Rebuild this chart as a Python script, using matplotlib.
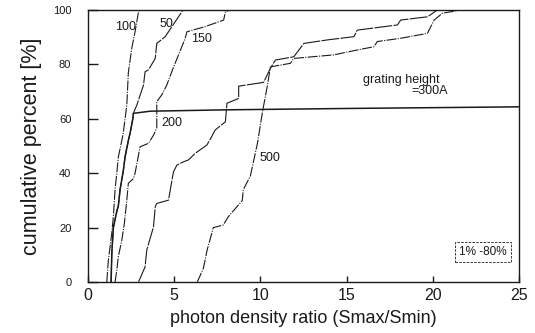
import matplotlib
matplotlib.use("Agg")
import matplotlib.pyplot as plt

plt.rcParams["font.family"] = ["Liberation Sans", "DejaVu Sans"]

# curves: x = Smax/Smin, y = cumulative %
x_100 = [1.09, 1.18, 1.38, 1.47, 1.57, 1.67, 1.76, 1.96, 2.05, 2.25, 2.34, 2.54, 2.73, 2.92, 3.0]
y_100 = [0, 8, 18, 24, 34, 40, 46, 52, 55, 65, 77, 86, 92, 99, 100]

x_low = [1.34, 1.38, 1.47, 1.67, 1.76, 1.86, 2.05, 2.15, 2.34, 2.45, 2.6, 2.63]
y_low = [0, 10.6, 20, 26, 28, 34, 41, 46, 52, 55, 60, 62]

x_50 = x_low + [2.83, 3.22, 3.31, 3.51, 3.9, 3.99, 4.48, 5.06, 5.45, 5.5]
y_50 = y_low + [65, 72.4, 77.3, 78, 82.2, 87.7, 90.2, 95.7, 99.4, 100]

x_200 = x_low + [3.6, 8.0, 15.0, 25.0]
y_200 = y_low + [62.8, 63.3, 63.8, 64.4]

x_150 = [1.57, 1.67, 1.76, 1.96, 2.11, 2.25, 2.34, 2.63, 2.73, 3.02, 3.51, 3.8, 3.99, 3.99,
         4.3, 4.57, 4.9, 5.25, 5.64, 5.74, 6.8, 7.87, 7.97, 8.26]
y_150 = [0, 4.4, 9.3, 15.4, 21.6, 30, 36.3, 38, 40, 49.7, 51, 54, 56.6, 66.3,
         69, 72.4, 78, 83.5, 89.6, 92, 93.9, 96.3, 99.4, 100]

x_d = [2.93, 3.31, 3.41, 3.8, 3.9, 3.99, 4.67, 4.96, 5.16, 5.54, 5.83, 6.22, 6.9, 7.09,
       7.38, 7.97, 8.06, 8.74, 8.74, 10.19, 10.58, 10.87, 11.94, 12.52, 13.88, 15.43,
       15.62, 17.95, 18.14, 19.69, 20.27]
y_d = [0, 5.6, 11.8, 20.3, 27.7, 28.9, 30.1, 40.6, 43, 44.2, 44.9, 47.3, 50.4, 52.5,
       55.9, 58.9, 65.7, 67.5, 72, 73.4, 78.6, 81.6, 82.8, 87.7, 89, 90.2,
       92.6, 94.5, 96.3, 97.5, 100]

x_500 = [6.34, 6.69, 6.92, 7.27, 7.85, 8.14, 8.95, 9.01, 9.42, 9.59, 9.83, 10.12, 10.4,
         10.58, 10.68, 11.74, 11.94, 14.26, 15.62, 16.59, 16.78, 18.14, 19.69, 20.08,
         20.56, 21.63]
y_500 = [0, 5, 12, 20, 21, 24, 30, 34, 39, 44, 51, 62.5, 72,
         79, 79.2, 80.4, 82.2, 83.5, 85.3, 86.5, 88.4, 89.6, 91.4, 96.3,
         98.8, 100]

labels = ["100", "50", "150", "200", "500"]
label_x = [2.2, 4.53, 6.57, 4.88, 10.58]
label_y = [93.8, 94.9, 89.3, 58.5, 45.6]

fig = plt.figure(figsize=(5.35, 3.33), dpi=100)
ax = fig.add_axes([0.1645, 0.153, 0.8055, 0.817])

ink = "#1a1a1a"
dashdot = (0, (9, 1.2, 1, 1.2))
ax.plot(x_100, y_100, color=ink, lw=0.8, ls=dashdot)
ax.plot(x_50, y_50, color=ink, lw=0.8, ls=(0, (14, 1.2)))
ax.plot(x_200, y_200, color=ink, lw=1.1)
ax.plot(x_150, y_150, color=ink, lw=0.8, ls=dashdot)
ax.plot(x_d, y_d, color=ink, lw=0.8, ls=(0, (16, 1.2)))
ax.plot(x_500, y_500, color=ink, lw=0.8, ls=dashdot)

for t, lx, ly in zip(labels, label_x, label_y):
    ax.text(lx, ly, t, fontsize=9, ha="center", va="center", color=ink)

ax.text(18.2, 74.3, "grating height", fontsize=9, ha="center", va="center", color=ink)
ax.text(19.8, 70.4, "=300A", fontsize=9, ha="center", va="center", color=ink)

ax.text(22.9, 11, "1% -80%", fontsize=8.5, ha="center", va="center", color=ink,
        bbox=dict(boxstyle="square,pad=0.35", fc="white", ec=ink, lw=0.6, ls=(0, (3, 1.5))))

ax.set_xlim(0, 25)
ax.set_ylim(0, 100)
ax.set_xticks([0, 5, 10, 15, 20, 25])
ax.set_yticks([0, 20, 40, 60, 80, 100])
ax.tick_params(axis="y", direction="in", length=7, width=1, labelsize=8, pad=12, colors=ink)
ax.tick_params(axis="x", direction="in", length=4, width=1, labelsize=11.5, pad=4, colors=ink)
for s in ax.spines.values():
    s.set_color(ink)
    s.set_linewidth(1.0)

ax.set_xlabel("photon density ratio (Smax/Smin)", fontsize=13, color=ink, labelpad=5)
ax.set_ylabel("cumulative percent [%]", fontsize=15.5, color=ink, labelpad=8)

fig.savefig("out.png", dpi=100)
